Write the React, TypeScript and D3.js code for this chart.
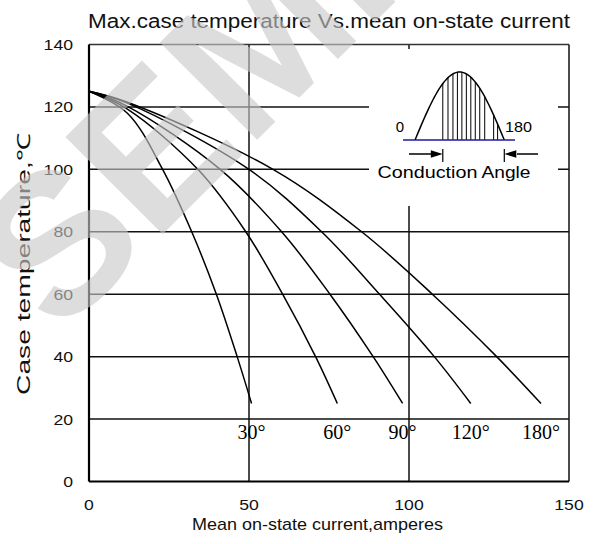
import React from 'react';
import * as d3 from 'd3';

const xTicks = [0, 50, 100, 150];
const yTicks = [0, 20, 40, 60, 80, 100, 120, 140];
const gridY = [20, 40, 60, 80, 100, 120];
const gridX = [50, 100];

const angleLabels = ['30°', '60°', '90°', '120°', '180°'];
// points: mean current (A) and case temperature (°C)
const current30 = [0, 12, 23, 32.1, 39.8, 46.3, 50.8];
const temp30 = [125, 118, 100, 80, 60, 40, 25];
const current60 = [0, 12, 34, 49, 60.5, 70.8, 77.6];
const temp60 = [125, 119.3, 100, 80, 60, 40, 25];
const current90 = [0, 12, 41, 60.2, 75.3, 88.8, 98.0];
const temp90 = [125, 120.2, 100, 80, 60, 40, 25];
const current120 = [0, 12, 50, 72.7, 90.8, 107.9, 119.3];
const temp120 = [125, 121.2, 100, 80, 60, 40, 25];
const current180 = [0, 12, 57.5, 85.2, 107.3, 127.4, 141.25];
const temp180 = [125, 121.5, 100, 80, 60, 40, 25];
const seriesCurrents = [current30, current60, current90, current120, current180];
const seriesTemps = [temp30, temp60, temp90, temp120, temp180];

// inset hatch positions (degrees of the half sine)
const hatchDeg = [56, 66.5, 76.5, 85.5, 94.5, 103.5, 112.5, 121.5, 130.5, 140.5, 158.5, 166.5];

const FONT = '"Liberation Sans", Arial, sans-serif';
const SERIF = '"Liberation Serif", "Times New Roman", serif';

export default function App() {
  const x = d3.scaleLinear().domain([0, 150]).range([89, 569]);
  const y = d3.scaleLinear().domain([0, 140]).range([481.5, 44.5]);
  const line = d3
    .line<[number, number]>()
    .x((d) => x(d[0]))
    .y((d) => y(d[1]))
    .curve(d3.curveCatmullRom.alpha(0.5));

  // inset geometry
  const ix0 = 415, ix1 = 504.3, ib = 140, ih = 68;
  const ang = d3.scaleLinear().domain([0, 180]).range([ix0, ix1]);
  const hump = d3.range(0, 181, 3).map((d) => [ang(d), ib - ih * Math.sin((d * Math.PI) / 180)] as [number, number]);
  const humpPath = d3.line<[number, number]>().curve(d3.curveLinear)(hump) || '';
  const ca = 56;

  return (
    <svg width={598} height={544} style={{ position: 'absolute', left: 0, top: 0, background: '#fff' }}>
      <rect x={0} y={0} width={598} height={544} fill="#fff" />
      {/* title */}
      <text x={88} y={28} fontFamily={FONT} fontSize={20} textLength={482} lengthAdjust="spacingAndGlyphs" fill="#111">
        Max.case temperature Vs.mean on-state current
      </text>
      {/* grid */}
      {gridY.map((t) => (
        <line key={'gy' + t} x1={x(0)} x2={x(150)} y1={y(t)} y2={y(t)} stroke="#111" strokeWidth={1.5} />
      ))}
      {gridX.map((v) => (
        <line key={'gx' + v} x1={x(v)} x2={x(v)} y1={y(0)} y2={y(140)} stroke="#111" strokeWidth={1.5} />
      ))}
      {/* frame */}
      <line x1={x(0)} x2={x(150)} y1={y(140)} y2={y(140)} stroke="#333" strokeWidth={1.5} />
      <line x1={x(150)} x2={x(150)} y1={y(0)} y2={y(140)} stroke="#111" strokeWidth={1.5} />
      <line x1={x(0)} x2={x(0)} y1={y(0)} y2={y(140)} stroke="#000" strokeWidth={2.2} />
      <line x1={x(0)} x2={x(150)} y1={y(0)} y2={y(0)} stroke="#000" strokeWidth={2.2} />
      {/* inset mask */}
      <rect x={369} y={49} width={189} height={157} fill="#fff" />
      {/* inset drawing */}
      {hatchDeg.map((d) => (
        <line key={'h' + d} x1={ang(d)} x2={ang(d)} y1={ib} y2={ib - ih * Math.sin((d * Math.PI) / 180)} stroke="#000" strokeWidth={1} />
      ))}
      <path d={humpPath} fill="none" stroke="#000" strokeWidth={1.5} />
      <line x1={403} x2={515} y1={ib} y2={ib} stroke="#1a1aa0" strokeWidth={1.5} />
      <text x={400} y={131.5} fontFamily={FONT} fontSize={15} textAnchor="middle">0</text>
      <text x={505} y={131.5} fontFamily={FONT} fontSize={15} textLength={27} lengthAdjust="spacingAndGlyphs">180</text>
      {/* arrows */}
      <line x1={409} x2={432} y1={154} y2={154} stroke="#000" strokeWidth={1.5} />
      <path d={`M${ang(ca)},154 L${ang(ca) - 12},150.3 L${ang(ca) - 12},157.7 Z`} fill="#000" />
      <line x1={ang(ca)} x2={ang(ca)} y1={149} y2={162} stroke="#000" strokeWidth={1.2} />
      <line x1={517} x2={538} y1={154} y2={154} stroke="#000" strokeWidth={1.5} />
      <path d={`M${ang(180)},154 L${ang(180) + 12},150.3 L${ang(180) + 12},157.7 Z`} fill="#000" />
      <line x1={ang(180)} x2={ang(180)} y1={149} y2={162} stroke="#000" strokeWidth={1.2} />
      <text x={377.5} y={177.5} fontFamily={FONT} fontSize={17} textLength={100} lengthAdjust="spacingAndGlyphs">Conduction</text>
      <text x={481.5} y={177.5} fontFamily={FONT} fontSize={17} textLength={49} lengthAdjust="spacingAndGlyphs">Angle</text>
      {/* curves */}
      {seriesCurrents.map((cur, i) => (
        <path
          key={'c' + i}
          d={line(cur.map((c, j) => [c, seriesTemps[i][j]] as [number, number])) || ''}
          fill="none"
          stroke="#000"
          strokeWidth={1.5}
        />
      ))}
      {seriesCurrents.map((cur, i) => (
        <text key={'l' + i} x={x(cur[cur.length - 1])} y={439} fontFamily={SERIF} fontSize={20} textAnchor="middle">
          {angleLabels[i]}
        </text>
      ))}
      {/* axis tick labels */}
      {yTicks.map((t) => (
        <text key={'yt' + t} x={73} y={y(t) + 5.5} fontFamily={FONT} fontSize={15} textAnchor="end" fill="#111"
          textLength={String(t).length * 9.8} lengthAdjust="spacingAndGlyphs">
          {t}
        </text>
      ))}
      {xTicks.map((v) => (
        <text key={'xt' + v} x={x(v)} y={510} fontFamily={FONT} fontSize={15} textAnchor="middle" fill="#111"
          textLength={String(v).length * 9.8} lengthAdjust="spacingAndGlyphs">
          {v}
        </text>
      ))}
      <text x={192} y={530} fontFamily={FONT} fontSize={17} textLength={251} lengthAdjust="spacingAndGlyphs" fill="#111">
        Mean on-state current,amperes
      </text>
      <text transform="translate(30,395) rotate(-90)" fontFamily={FONT} fontSize={18} textLength={262} lengthAdjust="spacingAndGlyphs" fill="#111">
        Case temperature,℃
      </text>
      {/* watermark */}
      <text transform="translate(59,338) rotate(-45)" fontFamily={FONT} fontWeight="bold" fontSize={200}
        fill="rgb(200,200,200)" fillOpacity={0.62}>
        SEMI
      </text>
    </svg>
  );
}
